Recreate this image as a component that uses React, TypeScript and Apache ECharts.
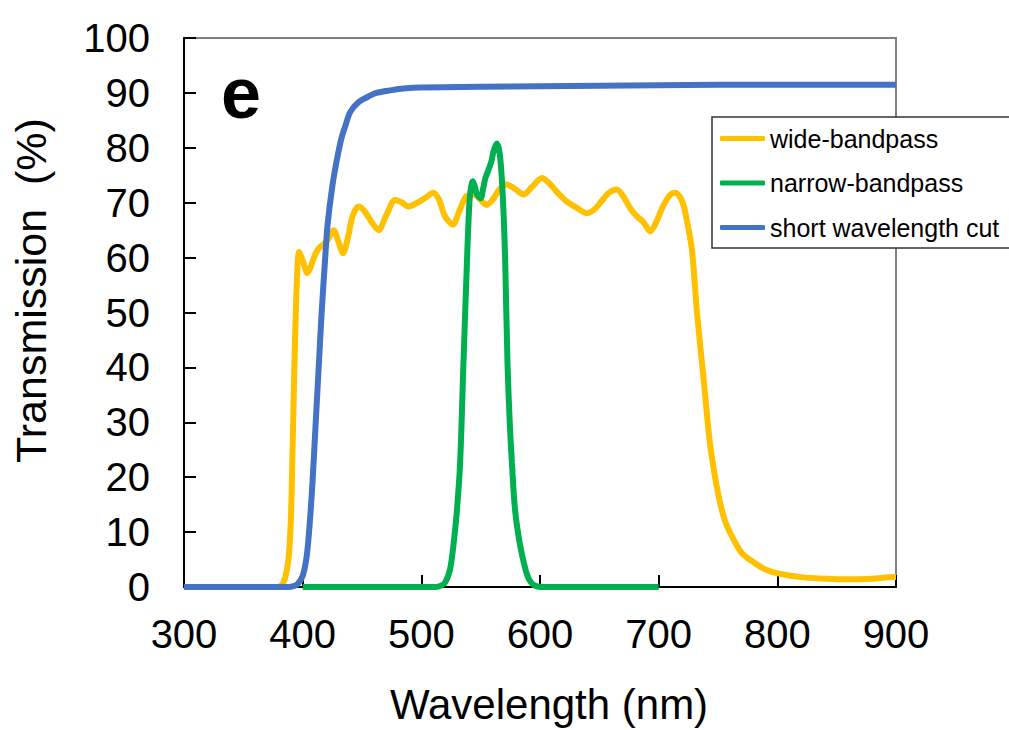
import React, { useEffect, useRef } from "react";
import * as echarts from "echarts";

const seriesNames = ["wide-bandpass", "narrow-bandpass", "short wavelength cut"];
const seriesColors = ["#FFC000", "#00B050", "#4472C4"];

const xTicks = [300, 400, 500, 600, 700, 800, 900];
const yTicks = [0, 10, 20, 30, 40, 50, 60, 70, 80, 90, 100];

const wideBandpass: number[][] = [
  [300, 0], [378, 0], [382, 0.3], [385, 1.5], [388, 5], [390, 12], [391.5, 25], [393, 40], [395, 55], [397, 61],
  [400, 59.5], [404, 57.2], [407, 58.5], [410.5, 60.5], [414, 61.8], [417.5, 62.4],
  [421, 63.2], [426, 65], [430, 63], [434, 60.8], [438, 63.5], [442, 67.5], [447, 69.3],
  [452, 68.5], [458, 66.5], [464, 65], [470, 67.5], [478, 70.5], [484, 70], [489, 69.3],
  [495, 69.8], [503, 70.8], [510, 71.8], [515, 70.5], [520, 67.5], [526.5, 66],
  [532, 68.5], [538, 71.2], [545, 71.5], [550, 70.5], [555, 69.6], [560, 70.5],
  [566, 72.5], [572, 73.3], [579, 72.5], [586, 71.5], [593, 72.8], [601.6, 74.5],
  [608, 73.5], [615, 71.8], [622.7, 70.2], [630, 69.2], [639.5, 68.1], [646, 68.8],
  [652, 70.3], [658, 71.8], [664.8, 72.4], [670, 71.2], [676, 69], [681.7, 67.5],
  [687, 66.5], [693, 64.8], [698, 66.5], [704, 69.5], [710, 71.5], [714, 71.8],
  [718, 71], [721, 69.5], [724, 66.5], [728, 61.5], [732.3, 50], [737.9, 37.8],
  [743.5, 25.7], [750.5, 16.6], [756, 12], [763, 8.7], [770, 6.2], [780, 4.5],
  [790, 3.2], [802.5, 2.4], [820, 1.8], [842, 1.5], [860, 1.4], [880, 1.5],
  [898, 1.8], [900, 1.8],
];

const narrowBandpass: number[][] = [
  [400, 0], [512, 0], [517, 0.3], [520, 0.8], [524, 3], [527, 7.5], [530, 14], [532.7, 22.7],
  [535.5, 40.8], [538.4, 59], [540.5, 70], [542, 73], [543.4, 73.9], [545, 73],
  [547, 71.5], [550, 70.8], [552, 72.5], [554, 74.5], [556.6, 76], [559, 77.5],
  [561, 79.5], [563.7, 80.8], [566, 79], [567.9, 74.2], [569.5, 67], [570.7, 59],
  [572.6, 40.8], [574.5, 30], [576.3, 22.7], [579, 14], [583.3, 7.5], [588, 3],
  [591, 1.3], [594.5, 0.4], [598, 0.1], [603, 0], [700, 0],
];

const shortWavelengthCut: number[][] = [
  [300, 0], [388, 0], [393, 0.2], [396, 0.6], [400, 2], [403, 5], [405, 9], [408, 18], [411, 30],
  [414, 42], [416, 50], [419, 60], [421, 66], [425, 73], [429, 78], [433, 82],
  [436, 84], [440, 86.5], [447, 88.3], [455, 89.3], [462, 90], [475, 90.5],
  [485, 90.8], [500, 91], [550, 91.1], [600, 91.2], [700, 91.4], [800, 91.5],
  [900, 91.5],
];

const panelLabel = "e";
const xTitle = "Wavelength (nm)";
const yTitle = "Transmission  (%)";

const FONT = "'Liberation Sans', Arial, sans-serif";

export default function App() {
  const ref = useRef<HTMLDivElement>(null);

  useEffect(() => {
    if (!ref.current) return;
    const chart = echarts.init(ref.current, undefined, { renderer: "svg" });
    const datasets = [wideBandpass, narrowBandpass, shortWavelengthCut];
    chart.setOption({
      animation: false,
      backgroundColor: "#ffffff",
      textStyle: { fontFamily: FONT },
      grid: {
        left: 184,
        right: 113,
        top: 38,
        bottom: 142,
        show: true,
        borderColor: "#808080",
        borderWidth: 2,
        backgroundColor: "transparent",
      },
      legend: {
        orient: "vertical",
        left: 712,
        top: 117,
        data: seriesNames,
        icon: "roundRect",
        itemWidth: 45,
        itemHeight: 5,
        itemGap: 19.5,
        padding: [9, 60, 8, 8],
        backgroundColor: "#ffffff",
        borderColor: "#333333",
        borderWidth: 1.5,
        textStyle: { fontSize: 25, color: "#000", fontFamily: FONT, lineHeight: 24 },
      },
      xAxis: {
        type: "value",
        min: xTicks[0],
        max: xTicks[xTicks.length - 1],
        interval: 100,
        name: xTitle,
        nameLocation: "middle",
        nameGap: 96,
        nameTextStyle: { fontSize: 42, color: "#000", fontFamily: FONT, padding: [0, 0, 0, 18] },
        axisLine: { lineStyle: { color: "#000", width: 2 } },
        axisTick: { inside: true, length: 12, lineStyle: { color: "#000", width: 2 } },
        axisLabel: { fontSize: 40, color: "#000", margin: 27, fontFamily: FONT },
        splitLine: { show: false },
      },
      yAxis: {
        type: "value",
        min: yTicks[0],
        max: yTicks[yTicks.length - 1],
        interval: 10,
        name: yTitle,
        nameLocation: "middle",
        nameGap: 132,
        nameTextStyle: { fontSize: 43, color: "#000", fontFamily: FONT, padding: [0, 0, 0, 44] },
        axisLine: { show: true, lineStyle: { color: "#000", width: 2 } },
        axisTick: { show: true, inside: true, length: 12, lineStyle: { color: "#000", width: 2 } },
        axisLabel: { fontSize: 40, color: "#000", margin: 34, fontFamily: FONT },
        splitLine: { show: false },
      },
      graphic: [
        {
          type: "text",
          left: 221,
          top: 57,
          style: {
            text: panelLabel,
            font: `bold 72px ${FONT}`,
            fill: "#000",
          },
        },
      ],
      series: seriesNames.map((name, i) => ({
        name,
        type: "line",
        data: datasets[i],
        showSymbol: false,
        symbol: "none",
        smooth: 0.3,
        lineStyle: { color: seriesColors[i], width: 6 },
        itemStyle: { color: seriesColors[i] },
        z: 2 + i,
      })),
    });
    return () => chart.dispose();
  }, []);

  return (
    <div
      ref={ref}
      style={{ position: "fixed", left: 0, top: 0, width: 1009, height: 730, background: "#fff" }}
    />
  );
}
